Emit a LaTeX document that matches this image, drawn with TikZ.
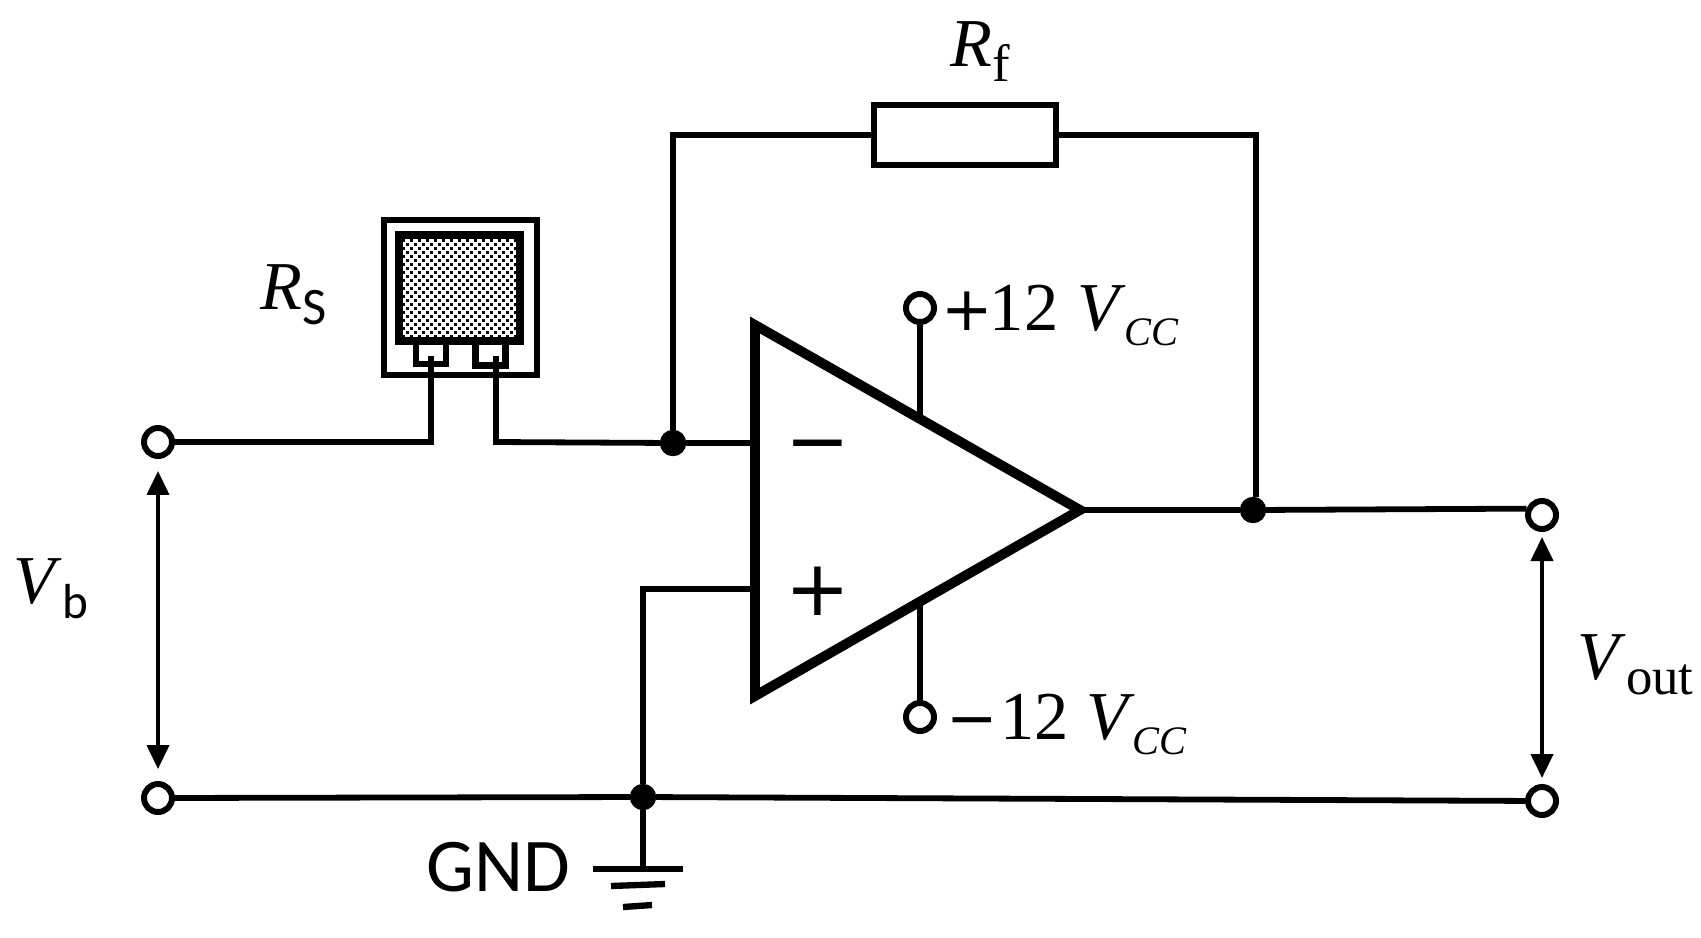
\documentclass[tikz,border=0pt]{standalone}
\usepackage{fontspec}
\setmainfont{Liberation Serif}
\newfontfamily\gndfont{Carlito}
\newfontfamily\opfont{DejaVu Sans}
\usetikzlibrary{arrows.meta}
\tikzset{
  wire/.style={line width=1.65pt,line join=miter},
  term/.style={draw,circle,line width=1.7pt,fill=white,inner sep=0pt,minimum size=0.28cm},
  joint/.style={draw,circle,fill=black,inner sep=0pt,minimum size=0.25cm},
  volt/.style={line width=1.15pt,{Triangle[length=0.24cm,width=0.22cm]}-{Triangle[length=0.24cm,width=0.22cm]}},
  box/.style={draw,rectangle,line width=1.8pt,inner sep=0pt},
  lab/.style={inner sep=0pt,anchor=base west,font=\fontsize{19.5pt}{22pt}\selectfont},
  sign/.style={inner sep=0pt,font=\opfont\fontsize{22pt}{24pt}\selectfont}
}
\newcommand{\subs}[2][14pt]{\raisebox{-0.23em}{\fontsize{#1}{15pt}\selectfont #2}}
\newcommand{\minussign}{{\opfont\fontsize{17.5pt}{20pt}\selectfont −}}
\newcommand{\plussign}{{\opfont\fontsize{17.5pt}{20pt}\selectfont +}}
\begin{document}
\begin{tikzpicture}
  \useasboundingbox (0,0) rectangle (17.01,9.37);
  % terminals and joints
  \node[term] (vbtop) at (1.58,4.95) {};
  \node[term] (vbbot) at (1.58,1.39) {};
  \node[term] (vouttop) at (15.42,4.22) {};
  \node[term] (voutbot) at (15.42,1.36) {};
  \node[term] (vccp) at (9.20,6.29) {};
  \node[term] (vccn) at (9.20,2.20) {};
  \node[joint] (jin) at (6.73,4.94) {};
  \node[joint] (jout) at (12.53,4.27) {};
  \node[joint] (jgnd) at (6.43,1.40) {};
  % op amp
  \coordinate (opa) at (7.55,6.12);
  \coordinate (opb) at (7.55,2.41);
  \coordinate (optip) at (10.80,4.27);
  \coordinate (inn) at (7.55,4.94);
  \coordinate (inp) at (7.55,3.48);
  \coordinate (suptop) at (9.20,5.20);
  \coordinate (supbot) at (9.20,3.33);
  \draw[wire] (vccp) -- (suptop);
  \draw[wire] (vccn) -- (supbot);
  \draw[line width=2.8pt,line join=miter,miter limit=10] (opa) -- (opb) -- (optip) -- cycle;
  \node[sign] (minus) at (8.18,4.83) {−};
  \node[sign] (plus) at (8.18,3.46) {+};
  % feedback
  \node[box,minimum width=1.82cm,minimum height=0.6cm] (rf) at (9.65,8.02) {};
  \coordinate (fbr) at (12.56,8.02);
  \draw[wire] (jin.north) |- (rf.west);
  \draw[wire] (rf.east) -- (fbr) -- (fbr |- jout.north);
  % sensor
  \node[box,minimum width=1.53cm,minimum height=1.55cm] (sens) at (4.605,6.395) {};
  \node[box,minimum width=0.30cm,minimum height=0.24cm] (padl) at (4.31,5.85) {};
  \node[box,minimum width=0.30cm,minimum height=0.25cm] (padr) at (4.905,5.84) {};
  \node[box,line width=2pt,minimum width=1.21cm,minimum height=1.06cm,fill=white] (film) at (4.595,6.49) {};
  \foreach \i in {0,...,28} {
    \foreach \j in {0,...,24} {
      \pgfmathparse{int(mod(\i+\j,2))}
      \ifnum\pgfmathresult=0
        \fill (4.02+\i*0.04,5.99+\j*0.04) rectangle +(0.034,0.034);
      \fi
    }
  }
  \coordinate (leadl) at (4.31,4.95);
  \coordinate (leadr) at (4.96,4.95);
  \draw[wire] (vbtop) -- (leadl) -- (4.31,5.81);
  \draw[wire] (4.96,5.81) -- (leadr) -- (jin);
  % rails
  \draw[wire] (jin) -- (inn);
  \draw[wire] (optip) -- (jout) -- (vouttop.158);
  \draw[wire] (inp) -| (jgnd);
  \draw[wire] (vbbot) -- (jgnd) -- (voutbot);
  % ground
  \coordinate (gnd) at (6.43,0.68);
  \draw[wire] (jgnd) -- (gnd);
  \draw[wire] (5.93,0.68) -- (6.83,0.68);
  \draw[wire,line width=1.8pt] (6.11,0.51) -- (6.65,0.53);
  \draw[wire,line width=1.8pt] (6.23,0.30) -- (6.52,0.32);
  \node[inner sep=0pt,anchor=base west,font=\gndfont\fontsize{21.6pt}{24pt}\selectfont] (gndlab) at (4.26,0.46) {GND};
  % voltages
  \draw[volt,shorten <=0.12cm,shorten >=0.12cm] (vbtop) -- (vbbot);
  \draw[volt,shorten <=0.05cm,shorten >=0.06cm] (vouttop) -- (voutbot);
  % labels
  \node[lab] (rflab) at (9.50,8.71) {\textit{R}\subs[15pt]{f}};
  \node[lab] (rslab) at (2.60,6.28) {\textit{R}\subs[15pt]{\gndfont S}};
  \node[lab] (vblab) at (0.13,3.34) {\textit{V}\subs[14pt]{\gndfont b}};
  \node[lab] (voutlab) at (15.77,2.58) {\textit{V}\subs[15pt]{out}};
  \node[lab] (vccplab) at (9.41,6.07) {\plussign\kern-1pt 12\kern5.5pt\textit{V}\kern-0.5pt\subs[11.5pt]{\textit{CC}}};
  \node[lab] (vccnlab) at (9.46,1.98) {\minussign\kern0.5pt 12\kern5pt\textit{V}\kern-0.5pt\subs[11.5pt]{\textit{CC}}};
\end{tikzpicture}
\end{document}
